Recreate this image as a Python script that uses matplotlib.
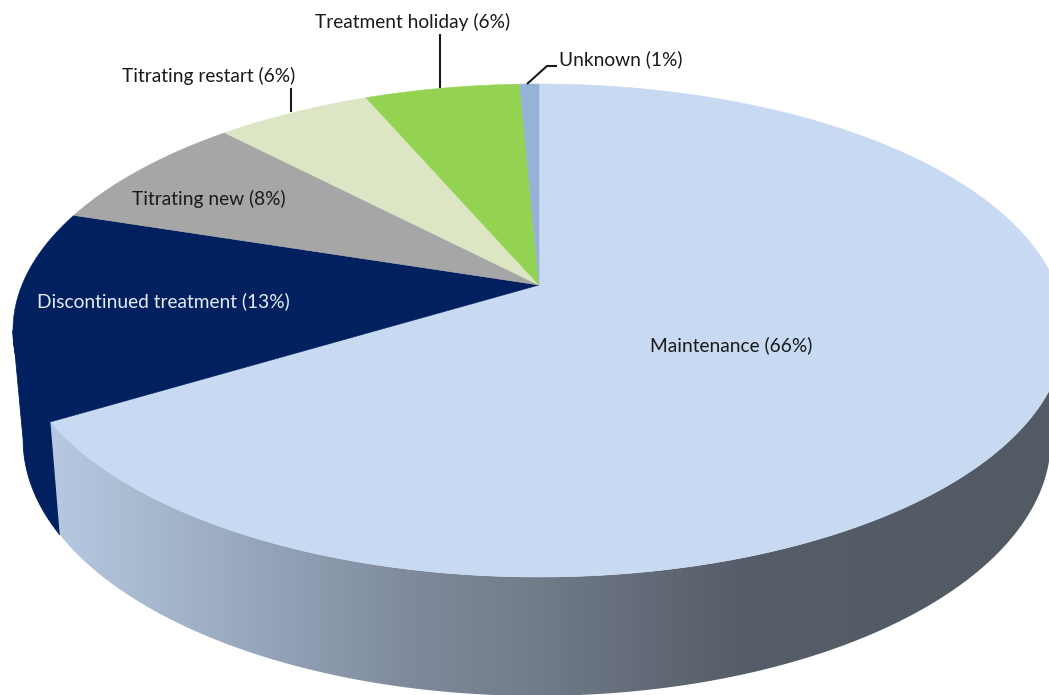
import numpy as np
import matplotlib
matplotlib.use("Agg")
import matplotlib.pyplot as plt
from matplotlib.colors import LinearSegmentedColormap
from matplotlib.patches import Polygon

labels = ["Maintenance (66%)", "Discontinued treatment (13%)", "Titrating new (8%)",
          "Titrating restart (6%)", "Treatment holiday (6%)", "Unknown (1%)"]
# slice shares as drawn on the tilted pie, clockwise from 12 o'clock
shares = [66.3, 13.7, 7.9, 5.7, 5.7, 0.7]
colors = ["#C7DAF2", "#002060", "#A6A6A6", "#DCE6C4", "#94D352", "#95B3D7"]
label_colors = ["#1a1a1a", "#E8ECF4", "#1a1a1a", "#1a1a1a", "#1a1a1a", "#1a1a1a"]
label_xy = [(731, 345), (163, 301), (208.5, 199), (209, 76), (412.5, 22), (621, 59)]
leaders = [[(291, 112), (291, 88)], [(440, 88), (440, 34)],
           [(527, 84), (547, 66), (557, 66)]]
wall_stops = [(49, "#B7C9E2"), (200, "#9FB0C5"), (300, "#8F9EB2"), (400, "#808C9E"),
              (540, "#707C88"), (650, "#636A77"), (750, "#555D68"), (1049, "#525A64")]

K = 0.1846
TOP = dict(cx=539, cy=285, a=517, b=238.1)
BOT = dict(cx=537, cy=392.7, a=505, b=247.2)


def project(frac, g):
    th = 2 * np.pi * np.asarray(frac)
    x, y = np.sin(th), np.cos(th)
    d = 1 + K * y
    return g["cx"] + g["a"] * x / d, g["cy"] - g["b"] * y / d


W, H = 1049, 695
fig = plt.figure(figsize=(W / 100, H / 100), dpi=100, facecolor="white")
ax = fig.add_axes([0, 0, 1, 1])
ax.set_axis_off()

edges = np.cumsum([0] + shares) / 100.0


def arc(i):
    return np.linspace(edges[i], edges[i + 1], 400)


def rim(i, g, pick):
    """Part of slice i's rim on the visible side of the silhouette point."""
    x, y = project(arc(i), g)
    if pick == "from_right":
        k = int(np.argmax(x))
        return x[k:], y[k:]
    k = int(np.argmin(x))
    return x[: k + 1], y[: k + 1]


def wall(i, pick):
    tx, ty = rim(i, TOP, pick)
    bx, by = rim(i, BOT, pick)
    return np.r_[tx, bx[::-1]], np.r_[ty, by[::-1]]


# walls
wx, wy = wall(1, "to_left")
ax.fill(wx, wy, color=colors[1], lw=0.6, zorder=1)

wx, wy = wall(0, "from_right")
poly = Polygon(np.c_[wx, wy], closed=True, transform=ax.transData, fc="none", ec="none")
ax.add_patch(poly)
cmap = LinearSegmentedColormap.from_list(
    "wall", [((x - 49) / (1049 - 49), c) for x, c in wall_stops])
im = ax.imshow(np.linspace(0, 1, 1000)[None, :], cmap=cmap, aspect="auto",
               extent=(49, 1049, 695, 0), zorder=2, interpolation="bilinear")
im.set_clip_path(poly)

# top faces
for i, c in enumerate(colors):
    x, y = project(arc(i), TOP)
    ax.fill(np.r_[TOP["cx"], x], np.r_[TOP["cy"], y], color=c, lw=0.4, zorder=3 + i * 0.01)

for pts in leaders:
    p = np.array(pts)
    ax.plot(p[:, 0], p[:, 1], color="#1a1a1a", lw=1.5, zorder=5, solid_capstyle="butt")

for t, (x, y), c in zip(labels, label_xy, label_colors):
    ax.text(x, y, t, ha="center", va="center", color=c, fontsize=13.8,
            family="Lato", zorder=6)

ax.set_xlim(0, W)
ax.set_ylim(H, 0)
fig.savefig("out.png", dpi=100, facecolor="white")
